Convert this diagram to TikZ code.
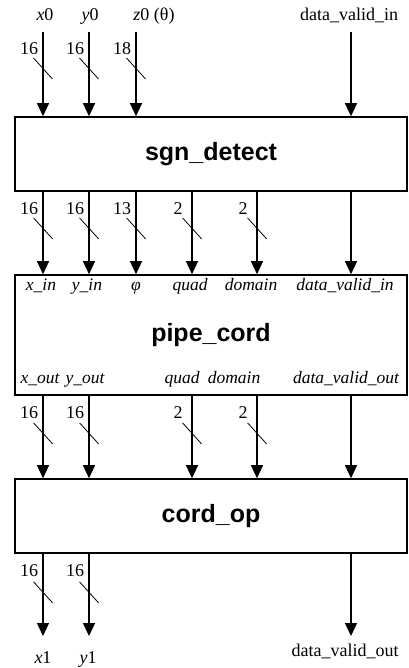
\documentclass[tikz,border=0pt]{standalone}
\usepackage{fontspec}
\setmainfont{Liberation Serif}
\newfontfamily\blkfont{Liberation Sans}
\usetikzlibrary{arrows.meta,calc}
\begin{document}
\begin{tikzpicture}[x=1pt,y=-1pt,
  blk/.style={draw, line width=1.6pt, inner sep=0pt, minimum width=392pt,
    font=\blkfont\bfseries\fontsize{25}{30}\selectfont},
  arr/.style={line width=1.3pt, -{Triangle[length=13pt,width=12pt]}},
  bus/.style={line width=0.8pt},
  num/.style={font=\fontsize{18}{20}\selectfont, inner sep=0pt},
  port/.style={font=\itshape\fontsize{17.5}{20}\selectfont, inner sep=0pt, anchor=base},
  sig/.style={font=\fontsize{18}{20}\selectfont, inner sep=0pt, anchor=base}]
\useasboundingbox (0,0) rectangle (408,668);

% blocks
\node[blk, minimum height=74pt]  (sgn)  at (211,154) {sgn\_detect};
\node[blk, minimum height=120pt] (pipe) at (211,335) {pipe\_cord};
\node[blk, minimum height=74pt]  (cop)  at (211,516) {cord\_op};

% top signal labels
\node[sig] (lx0) at (45,21)  {\textit{x}0};
\node[sig] (ly0) at (90,21)  {\textit{y}0};
\node[sig] (lz0) at (154,21) {\textit{z}0 (θ)};
\node[sig] (ldi) at (349,21) {data\_valid\_in};

% row 1: inputs to sgn_detect
\foreach \n/\x/\w in {a/43/16, b/89/16, c/136/18}{
  \coordinate (t\n) at (\x,32);
  \draw[arr] (t\n) -- (t\n |- sgn.north);
  \draw[bus] ($(t\n)+(-9.5,26)$) -- ++(19,21);
  \node[num] (tn\n) at ($(t\n)+(-14,17)$) {\w};
}
\coordinate (tv) at (351,32);
\draw[arr] (tv) -- (tv |- sgn.north);

% row 2: sgn_detect -> pipe_cord
\foreach \n/\x/\w in {a/43/16, b/89/16, c/136/13, d/192/2, e/257/2}{
  \path (sgn.south) ++({\x-211},0) coordinate (s\n);
  \draw[arr] (s\n) -- (s\n |- pipe.north);
  \draw[bus] ($(s\n)+(-9.5,26)$) -- ++(19,21);
  \node[num] (sn\n) at ($(s\n)+(-14,17)$) {\w};
}
\path (sgn.south) ++(140,0) coordinate (sv);
\draw[arr] (sv) -- (sv |- pipe.north);

% pipe_cord port labels
\node[port] (pxi) at (41,290)  {x\_in};
\node[port] (pyi) at (87,290)  {y\_in};
\node[port] (pph) at (136,290) {φ};
\node[port] (pqi) at (190,290) {quad};
\node[port] (pdi) at (251,290) {domain};
\node[port] (pvi) at (345,290) {data\_valid\_in};
\node[port] (pxo) at (40,383)  {x\_out};
\node[port] (pyo) at (85,383)  {y\_out};
\node[port] (pqo) at (182,383) {quad};
\node[port] (pdo) at (234,383) {domain};
\node[port] (pvo) at (346,383) {data\_valid\_out};

% row 3: pipe_cord -> cord_op
\foreach \n/\x/\w in {a/43/16, b/89/16, d/192/2, e/257/2}{
  \path (pipe.south) ++({\x-211},0) coordinate (p\n);
  \draw[arr] (p\n) -- (p\n |- cop.north);
  \draw[bus] ($(p\n)+(-9.5,27)$) -- ++(19,21);
  \node[num] (pn\n) at ($(p\n)+(-14,17)$) {\w};
}
\path (pipe.south) ++(140,0) coordinate (pv);
\draw[arr] (pv) -- (pv |- cop.north);

% row 4: outputs of cord_op
\foreach \n/\x/\w in {a/43/16, b/89/16}{
  \path (cop.south) ++({\x-211},0) coordinate (c\n);
  \coordinate (e\n) at (\x,636);
  \draw[arr] (c\n) -- (e\n);
  \draw[bus] ($(c\n)+(-9.5,28)$) -- ++(19,21);
  \node[num] (cn\n) at ($(c\n)+(-14,17)$) {\w};
}
\path (cop.south) ++(140,0) coordinate (cv);
\coordinate (ev) at (351,636);
\draw[arr] (cv) -- (ev);

% bottom signal labels
\node[sig] (lx1) at (43,663)  {\textit{x}1};
\node[sig] (ly1) at (88,663)  {\textit{y}1};
\node[sig] (ldo) at (345,656) {data\_valid\_out};
\end{tikzpicture}
\end{document}
